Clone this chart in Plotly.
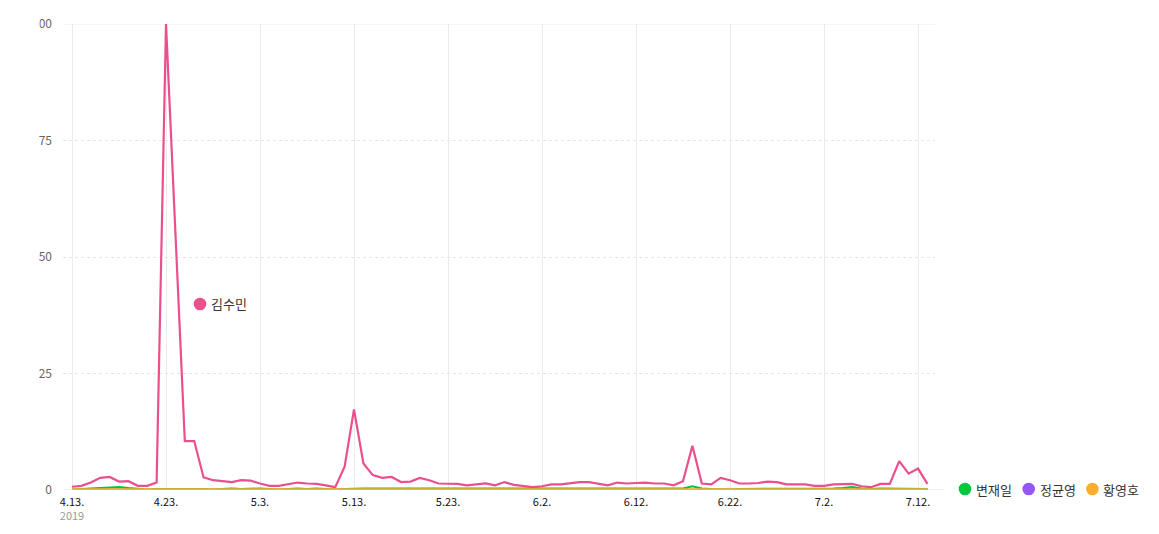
import pandas as pd
import plotly.graph_objects as go

start_date = "2019-04-13"
n_days = 92

names = ["김수민", "변재일", "정균영", "황영호"]
colors = ["#e9508d", "#00c73c", "#9457f5", "#ffad2c"]

kim_sumin = [0.7, 0.9, 1.6, 2.6, 2.8, 1.8, 1.9, 0.9, 0.9, 1.6,
             100, 54, 10.5, 10.5, 2.7, 2.1, 1.9, 1.7, 2.1, 2.0,
             1.4, 0.9, 0.9, 1.3, 1.6, 1.4, 1.3, 1.0, 0.6, 5.0,
             17.3, 5.7, 3.2, 2.6, 2.8, 1.7, 1.8, 2.6, 2.1, 1.4,
             1.4, 1.3, 1.0, 1.2, 1.4, 1.0, 1.7, 1.1, 0.9, 0.6,
             0.8, 1.2, 1.2, 1.5, 1.7, 1.7, 1.3, 1.0, 1.6, 1.4,
             1.5, 1.6, 1.4, 1.4, 1.0, 1.9, 9.5, 1.4, 1.2, 2.6,
             2.1, 1.4, 1.4, 1.5, 1.8, 1.7, 1.2, 1.2, 1.2, 0.9,
             0.9, 1.2, 1.3, 1.3, 0.8, 0.6, 1.3, 1.3, 6.2, 3.5,
             4.6, 1.3]

byun_jaeil = [0.1, 0.2, 0.3, 0.4, 0.4, 0.6, 0.4, 0.2, 0.1, 0.2,
              0.2, 0.2, 0.2, 0.3, 0.2, 0.1, 0.2, 0.3, 0.2, 0.3,
              0.3, 0.2, 0.1, 0.2, 0.3, 0.2, 0.3, 0.2, 0.1, 0.2,
              0.3, 0.3, 0.3, 0.3, 0.2, 0.2, 0.2, 0.3, 0.3, 0.3,
              0.3, 0.2, 0.2, 0.2, 0.3, 0.3, 0.3, 0.3, 0.2, 0.2,
              0.2, 0.2, 0.3, 0.3, 0.3, 0.2, 0.2, 0.2, 0.2, 0.3,
              0.3, 0.3, 0.3, 0.2, 0.2, 0.3, 0.8, 0.3, 0.2, 0.1,
              0.1, 0.2, 0.2, 0.3, 0.3, 0.2, 0.2, 0.2, 0.2, 0.2,
              0.3, 0.3, 0.4, 0.6, 0.3, 0.2, 0.3, 0.3, 0.3, 0.3,
              0.3, 0.2]

jung_gyunyoung = [0.05] * n_days

hwang_youngho = [0.15] * n_days

series = [kim_sumin, byun_jaeil, jung_gyunyoung, hwang_youngho]

tick_labels = ["4.13.<br><span style='color:#9a9a9a'>2019</span>", "4.23.", "5.3.", "5.13.", "5.23.",
               "6.2.", "6.12.", "6.22.", "7.2.", "7.12."]
y_ticks = [0, 25, 50, 75, 100]

dates = pd.date_range(start_date, periods=n_days, freq="D")
tick_dates = dates[::10][:len(tick_labels)]

# ---- layout geometry (pixels) ----
W, H = 1159, 534
L, R, T, B = 63, 224, 24, 44
PW, PH = W - L - R, H - T - B


def px(xp):
    return (xp - L) / PW


def py(yp):
    return (H - B - yp) / PH


fig = go.Figure()
for name, vals, col in zip(names, series, colors):
    fig.add_trace(go.Scatter(
        x=dates, y=vals, mode="lines", name=name,
        line=dict(color=col, width=2.2),
        showlegend=False, hoverinfo="x+y+name",
        cliponaxis=False,
    ))

# legend: first series labelled inside the plot, the others along the bottom right
legend_pos = [(200, 304)] + [(965 + 63.7 * k, 489) for k in range(3)]
shapes = [
    dict(type="line", xref="paper", yref="y", x0=0, x1=1, y0=100, y1=100,
         line=dict(color="#ebebeb", width=1), layer="below"),
    dict(type="line", xref="paper", yref="y", x0=0, x1=px(945), y0=0, y1=0,
         line=dict(color="#e3e3e3", width=1), layer="below"),
    # the original frame crops the first digit of the top y label
    dict(type="rect", xref="paper", yref="paper",
         x0=px(0), x1=px(39.5), y0=py(34), y1=py(12),
         fillcolor="white", line=dict(width=0), layer="above"),
]
annotations = []
for name, col, (cx, cy) in zip(names, colors, legend_pos):
    shapes.append(dict(
        type="circle", xref="paper", yref="paper",
        xsizemode="pixel", ysizemode="pixel",
        xanchor=px(cx), yanchor=py(cy),
        x0=-6.3, x1=6.3, y0=-6.3, y1=6.3,
        fillcolor=col, line=dict(width=0), layer="above",
    ))
    annotations.append(dict(
        text=name, xref="paper", yref="paper", x=px(cx + 9), y=py(cy),
        xanchor="left", yanchor="middle", showarrow=False,
        font=dict(size=13, color="#333"),
    ))

fig.update_layout(
    width=W, height=H,
    margin=dict(l=L, r=R, t=T, b=B),
    paper_bgcolor="white", plot_bgcolor="white",
    font=dict(family="Noto Sans CJK KR, sans-serif", size=12, color="#333"),
    showlegend=False,
    xaxis=dict(
        type="date",
        range=[pd.Timestamp("2019-04-12 01:00"), pd.Timestamp("2019-07-13 19:20")],
        tickmode="array", tickvals=tick_dates, ticktext=tick_labels,
        showgrid=True, gridcolor="#ebebeb", gridwidth=1,
        zeroline=False, showline=False, ticks="",
        tickfont=dict(size=11, color="#111"),
        ticklabelstandoff=4,
    ),
    yaxis=dict(
        range=[0, 100], tickmode="array", tickvals=y_ticks,
        ticktext=[str(v) for v in y_ticks],
        showgrid=True, gridcolor="#e6e6e6", griddash="3px,3px", gridwidth=1,
        zeroline=False, showline=False, ticks="",
        tickfont=dict(size=12, color="#666"),
        ticklabelstandoff=10,
    ),
    shapes=shapes,
    annotations=annotations,
)

fig.write_html("out.html", config={"displayModeBar": False},
               post_script="document.body.style.margin='0';")
